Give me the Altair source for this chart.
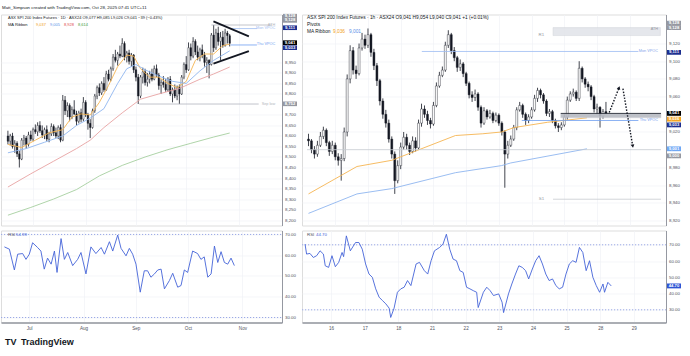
import altair as alt
import pandas as pd

FONT = "Liberation Sans"
INK = "#131722"
AXC = "#50535e"
GRID = "#f0f2f6"
SEP = "#9598a1"

# ---------------- daily (left) ----------------
D_OPEN = [8600,8575,8600,8550,8565,8515,8490,8580,8590,8560, 8605,8585,8630,8620,8650,8625,8605,8630,8585,8610,
          8645,8615,8600,8640,8580,8770,8720,8745,8690,8725, 8705,8670,8710,8680,8760,8700,8660,8640,8720,8790,
          8830,8805,8850,8820,8895,8870,8920,8975,8960,8990, 8980,9040,8975,8995,8955,8985,8915,8880,8790,8880,
          8905,8855,8870,8895,8870,8920,8890,8840,8855,8845, 8820,8870,8800,8820,8790,8830,8800,8880,8940,8915,
          9020,8980,9050,9000,8975,9010,8985,8950,8960,8940, 9080,9020,9090,9050,9070,9030,9090,9077]
D_HIGH = [8625,8610,8615,8580,8575,8530,8590,8605,8600,8620, 8625,8640,8655,8665,8670,8650,8640,8650,8620,8660,
          8655,8640,8650,8655,8795,8790,8760,8755,8740,8770, 8720,8720,8730,8785,8770,8710,8680,8730,8800,8840,
          8850,8860,8880,8910,8915,8930,8990,9010,9000,9030, 9065,9050,9005,9010,8995,8990,8930,8895,8890,8925,
          8920,8900,8910,8920,8935,8940,8900,8870,8885,8870, 8880,8885,8830,8845,8840,8845,8890,8950,8980,9045,
          9040,9070,9060,9030,9020,9035,9000,8975,8965,9090, 9128,9110,9120,9095,9100,9110,9100,9085]
D_LOW = [8560,8555,8540,8520,8500,8450,8485,8555,8540,8550, 8575,8575,8610,8600,8615,8590,8585,8575,8570,8600,
         8600,8590,8585,8570,8575,8700,8690,8670,8680,8700, 8650,8660,8665,8670,8690,8630,8590,8635,8710,8775,
         8790,8795,8810,8815,8860,8860,8910,8950,8935,8970, 8975,8960,8950,8940,8930,8900,8860,8752,8780,8850,
         8840,8835,8850,8860,8865,8880,8820,8800,8830,8810, 8810,8790,8760,8780,8770,8752,8795,8870,8900,8910,
         8960,8970,8985,8960,8955,8970,8930,8900,8874,8935, 9000,9010,9030,8960,9020,9025,9040,9026]
D_CLOSE = [8575,8600,8550,8565,8515,8490,8580,8590,8560,8605, 8585,8630,8620,8650,8625,8605,8630,8585,8610,8645,
           8615,8600,8640,8580,8770,8720,8745,8690,8725,8705, 8670,8710,8680,8760,8700,8660,8640,8720,8790,8830,
           8805,8850,8820,8895,8870,8920,8975,8960,8990,8980, 9040,8975,8995,8955,8985,8915,8880,8790,8880,8905,
           8855,8870,8895,8870,8920,8890,8840,8855,8845,8820, 8870,8800,8820,8790,8830,8800,8880,8940,8915,9020,
           8980,9050,9000,8975,9010,8985,8950,8960,8940,9080, 9020,9090,9050,9070,9030,9090,9078,9041]

D_MA1_I = [0,6,12,18,24,28,32,36,40,44,48,52,55,58,62,66,70,74,78,82,86,90,94,97]
D_MA1_V = [8560,8545,8580,8615,8630,8690,8705,8700,8760,8840,8930,8985,8980,8920,8880,8880,8850,8830,8860,8960,8990,8990,9030,9037]
D_MA2_I = [0,8,16,24,30,36,42,48,52,56,60,66,72,78,84,90,97]
D_MA2_V = [8520,8540,8570,8600,8650,8685,8730,8850,8920,8940,8915,8885,8860,8850,8910,8960,9005]
D_MA3_I = [0,10,20,30,36,42,50,58,66,75,84,90,97]
D_MA3_V = [8357,8420,8480,8540,8580,8640,8710,8775,8800,8826,8870,8895,8928]
D_MA4_I = [0,10,20,30,40,50,60,70,80,90,97]
D_MA4_V = [8223,8260,8300,8345,8410,8460,8500,8535,8565,8595,8614]

D_RSI_I = [0.6,2.7,4.8,6.2,8.3,9.7,11.1,12.5,14.6,16.0,17.4,18.8,20.3,21.7,22.8,24.5,25.9,27.3,29.4,31.5,
           32.9,35.0,37.1,39.2,41.4,42.8,44.9,46.3,48.4,49.8,51.9,53.3,54.7,56.1,57.9,59.6,61.0,62.4,63.9,65.3,
           66.7,68.1,70.2,71.6,73.7,75.1,76.5,77.9,80.0,82.1,83.5,84.9,86.4,87.8,89.2,90.6,92.0,93.4,94.8,96.2,97.6]
D_RSI_V = [64,62.9,52.9,60.5,60.8,58,60.5,66,63.7,62,53.3,58.6,55.7,62,51.7,68,58,61.3,55,58,
           61.3,51,64,60.8,63.7,60.5,66.5,62,69.7,63.3,59.7,63.3,60.5,55.7,42.2,52.5,52.5,49.4,51,52.9,
           53.3,43.8,47.8,51.3,44.6,45.4,52.9,51.7,62,60.8,58,59.2,49.4,51,64.4,56.5,61.7,56.5,55.7,58.6,55.0]

D_MONTH_POS = [11, 34, 56, 78, 101]
D_MONTH_LBL = ["Jul", "Aug", "Sep", "Oct", "Nov"]
D_PRICE_TICKS = [8200,8250,8300,8350,8400,8450,8500,8550,8600,8650,8700,8800,8850,8900,8950]

# horizontal levels (left): x1, x2, level, colour, label
D_LVL_X1 = [89.0, 97.4, 97.4, 57.4]
D_LVL_X2 = [115.6, 108.9, 108.9, 109.7]
D_LVL_Y = [9128, 9111, 9033, 8752]
D_LVL_C = ["#b2b5be", "#9dbcf2", "#6f9ef0", "#b2b5be"]
D_LVL_T = ["ATH", "Mon VPOC", "Thu VPOC", "Sep low"]
# triangle trend lines
D_TRI_X1 = [89.9, 89.9]
D_TRI_Y1 = [9145, 8944]
D_TRI_X2 = [105.4, 105.4]
D_TRI_Y2 = [9074, 9004]

D_BOX_POS = [9170, 9150, 9115, 9044, 9020, 8753]
D_BOX_TXT = ["9,128", "9,128", "9,111", "9,041", "9,033", "8,752"]
D_BOX_FILL = ["#9598a1", "#9598a1", "#1c2e8f", "#000000", "#1c2e8f", "#9598a1"]

# ---------------- hourly (right) ----------------
H_OPEN0 = 9012
H_CLOSE = [9010,9000,8995,9005,9015,9022,9008,8998,9005,8992, 8988,8990,9020,9080,9112,9090,9086,9115,9125,9118,
           9130,9110,9095,9078,9055,9040,9030,9012,8995,8965, 8982,9003,9014,9005,8998,9010,9002,9030,9046,9040,
           9033,9029,9050,9072,9084,9090,9118,9130,9112,9104, 9093,9097,9086,9075,9062,9059,9063,9048,9030,9044,
           9037,9041,9033,9039,9030,9020,8995,9005,9012,9025, 9045,9050,9040,9033,9037,9045,9058,9067,9062,9055,
           9041,9043,9033,9027,9025,9028,9037,9056,9063,9065, 9058,9092,9080,9074,9071,9060,9046,9048,9038,9043,
           9041]
H_HIGH = [9018,9012,9004,9010,9020,9026,9024,9010,9010,9008, 8996,8995,9025,9085,9118,9116,9095,9120,9132,9130,
          9137,9132,9114,9098,9080,9058,9045,9034,9015,8998, 8988,9008,9020,9018,9008,9015,9014,9034,9052,9050,
          9044,9036,9054,9076,9088,9094,9122,9135,9132,9116, 9106,9102,9099,9088,9077,9066,9068,9065,9050,9048,
          9046,9045,9043,9042,9041,9032,9022,9010,9016,9028, 9048,9054,9052,9042,9040,9048,9062,9070,9069,9064,
          9057,9046,9045,9035,9030,9031,9040,9060,9066,9069, 9067,9100,9094,9082,9077,9073,9062,9052,9049,9046,
          9054]
H_LOW = [9004,8996,8990,8992,9003,9012,9004,8993,8995,8988, 8982,8965,8987,9015,9075,9085,9080,9084,9112,9114,
         9115,9105,9090,9072,9050,9035,9025,9008,8990,8950, 8962,8978,9000,9000,8994,8996,8998,9000,9026,9036,
         9028,9024,9027,9048,9070,9082,9088,9115,9108,9100, 9088,9089,9082,9072,9058,9054,9055,9044,9025,9028,
         9034,9035,9030,9031,9027,9016,8957,8990,9003,9010, 9022,9043,9036,9028,9030,9035,9043,9054,9058,9052,
         9038,9037,9030,9024,9020,9022,9026,9034,9054,9060, 9055,9055,9076,9070,9066,9056,9042,9040,9025,9035,
         9040]

H_MA1_K = [0, 16.3, 28, 49.4, 58.6, 64.9, 69.1, 80.4, 93.6]
H_MA1_V = [8950, 8981, 8988, 9016, 9018, 9020, 9025, 9031, 9036]
H_MA2_K = [0, 16.3, 28, 49.4, 64.9, 68, 93.6]
H_MA2_V = [8928, 8950, 8956, 8974, 8982, 8985, 9001]

H_RSI_K = [0.5,1.0,2.1,3.2,4.3,5.4,6.5,7.1,8.2,9.3,10.4,11.5,12.6,13.1,14.0,15.3,17.0,18.1,19.2,20.3,
           21.4,22.5,23.6,24.7,25.8,26.9,28.0,28.5,29.6,30.7,31.8,32.9,34.0,35.1,36.8,37.9,39.5,40.6,41.7,42.8,
           44.5,45.6,46.7,47.8,48.9,50.0,51.1,52.2,53.3,54.4,55.5,56.6,57.1,58.8,59.9,61.0,62.1,63.8,64.9,65.4,
           67.0,68.1,69.3,70.4,71.5,72.6,73.6,74.8,75.9,77.0,78.1,79.2,80.3,81.4,82.5,83.6,84.7,85.8,86.9,88.0,
           89.1,90.2,91.3,92.4,93.5,94.6,95.7,96.8,97.9,98.4,99.5,100.6]
H_RSI_V = [70.4,64.3,64.7,62.2,63.3,66.3,64.3,57.1,56.1,63.3,56.5,59.2,65.3,62.7,75.5,66.3,71.4,71.4,67.3,58.2,
           52,50,42.9,37.8,35.7,33.7,31,25.3,31,40.8,42.9,43.9,48,44.9,58.2,59.2,54.1,52,60.2,66.3,
           68.4,70.4,76.5,67.3,61.2,60.2,54.1,53,43.9,42.9,41.8,40.8,31.4,40.8,43.9,41.8,38.8,39.8,34.7,28.3,
           39.8,45.9,52,57.1,56.1,54.1,49,55.1,60.2,63.3,58.2,52,48,49,44.9,42.9,43.9,52,58.2,60.2,
           59.2,68.4,65.3,54.1,60.2,50,44.9,40.8,45.9,40.8,46.9,44.7]

H_DAY_POS = [9, 20, 31, 42, 53, 64, 75, 86, 97, 108]
H_DAY_LBL = ["16", "17", "18", "21", "22", "23", "24", "25", "28", "29"]
H_PRICE_TICKS = [8920, 8940, 8960, 8980, 9020, 9060, 9080, 9100, 9120]

H_LVL_X1 = [38.1, 71.7, -0.5, 82.2, 84.8]
H_LVL_X2 = [110.9, 110.9, 118.5, 118.5, 118.5]
H_LVL_Y = [9111, 9033, 9000, 8944, 9041]
H_LVL_C = ["#9dbcf2", "#6f9ef0", "#c7cad1", "#c7cad1", "#131722"]
H_TXT_X = [117.5, 117.5, 117.5, 78.3, 78.3]
H_TXT_Y = [9111, 9033, 9136, 9130, 8944]
H_TXT_T = ["Mon VPOC", "Thu VPOC", "ATH", "R1", "S1"]
H_TXT_C = ["#7fa6ea", "#6f9ef0", "#9598a1", "#9598a1", "#9598a1"]
H_TXT_A = ["right", "right", "right", "center", "center"]
# shaded zones: x1, x2, y1, y2
H_ZONE_X1 = [82.2, 84.8]
H_ZONE_X2 = [118.3, 118.5]
H_ZONE_Y1 = [9129, 9036]
H_ZONE_Y2 = [9138, 9041]
H_ZONE_C = ["#e3e5ea", "#b8bbc3"]
# projected path (dotted arrows)
H_ARW_X1 = [101.1, 105.7]
H_ARW_Y1 = [9042, 9069]
H_ARW_X2 = [104.4, 109.0]
H_ARW_Y2 = [9070, 9004]

H_BOX_POS = [9143, 9138, 9110, 9041, 9034.5, 9028, 9001, 8993]
H_BOX_TXT = ["9,128", "9,128", "9,111", "9,041", "9,036", "9,033", "9,001", "9,000"]
H_BOX_FILL = ["#9598a1", "#9598a1", "#1c2e8f", "#000000", "#f5a623", "#1c2e8f", "#6fa8f5", "#9598a1"]

# ---------------- layout ----------------
LW, RW, PH, IH = 281, 364, 211, 92
ONE = pd.DataFrame({"z": [0]})


def lab_expr(vals, labels):
    return " : ".join(f"datum.value == {v} ? '{l}'" for v, l in zip(vals, labels)) + " : ''"


def x_axis(vals, labels, show):
    if show:
        return alt.Axis(values=vals, labelExpr=lab_expr(vals, labels), labelFontSize=4.6, labelFont=FONT,
                        labelColor=AXC, labelPadding=2.5, ticks=False, domain=True, domainColor=SEP,
                        domainWidth=1.5, grid=True, gridColor=GRID, gridWidth=0.7, title=None,
                        labelFlush=False, labelOverlap=False)
    return alt.Axis(values=vals, labels=False, ticks=False, domain=False, grid=True, gridColor=GRID,
                    gridWidth=0.7, title=None)


def y_axis(vals, fmt):
    return alt.Axis(orient="right", values=vals, format=fmt, labelFontSize=4.4, labelFont=FONT,
                    labelColor=AXC, labelPadding=2.5, ticks=False, domain=True, domainColor=SEP,
                    domainWidth=1, grid=True, gridColor=GRID, gridWidth=0.7, title=None,
                    labelFlush=False, labelOverlap=False)


def txt(px, py, t, color, size=4.6, align="left", weight="normal"):
    return alt.Chart(ONE).mark_text(text=t, align=align, baseline="middle", fontSize=size, font=FONT,
                                    color=color, fontWeight=weight).encode(x=alt.value(px), y=alt.value(py))


def price_panel(df, ma_frames, ma_colors, X, Y, width, body_w, boxes, extra):
    wick = alt.Chart(df).mark_rule(color=INK, strokeWidth=0.8).encode(x=X("i"), y=Y("L"), y2="H")
    body = alt.Chart(df).mark_bar(size=body_w, stroke=INK, strokeWidth=0.4).encode(
        x=X("i"), y=Y("O"), y2="C",
        fill=alt.Color("dir:N", scale=alt.Scale(domain=["up", "down"], range=["#ffffff", INK]), legend=None))
    ma = alt.Chart(ma_frames).mark_line(strokeWidth=0.9).encode(
        x=X("i"), y=Y("v"),
        color=alt.Color("ma:N", scale=alt.Scale(domain=list(ma_colors.keys()), range=list(ma_colors.values())),
                        legend=None))
    box_rect = alt.Chart(boxes).mark_rect().encode(
        x=alt.value(width + 1), x2=alt.value(width + 15), y=Y("top"), y2="bot",
        color=alt.Color("fill:N", scale=None))
    box_text = alt.Chart(boxes).mark_text(fontSize=4.2, font=FONT, color="white", align="center",
                                          baseline="middle", fontWeight="bold").encode(
        x=alt.value(width + 8), y=Y("pos"), text="txt:N")
    return [wick, body, ma] + extra + [box_rect, box_text]


# ---------------- left frames ----------------
dd = pd.DataFrame({"i": range(len(D_CLOSE)), "O": D_OPEN, "H": D_HIGH, "L": D_LOW, "C": D_CLOSE})
dd["dir"] = ["up" if c >= o else "down" for o, c in zip(dd.O, dd.C)]
dma = pd.concat([
    pd.DataFrame({"i": D_MA1_I, "v": D_MA1_V, "ma": "m1"}),
    pd.DataFrame({"i": D_MA2_I, "v": D_MA2_V, "ma": "m2"}),
    pd.DataFrame({"i": D_MA3_I, "v": D_MA3_V, "ma": "m3"}),
    pd.DataFrame({"i": D_MA4_I, "v": D_MA4_V, "ma": "m4"}),
])
dbox = pd.DataFrame({"pos": D_BOX_POS, "txt": D_BOX_TXT, "fill": D_BOX_FILL})
dbox["top"] = dbox.pos + 11
dbox["bot"] = dbox.pos - 11
dlvl = pd.DataFrame({"x1": D_LVL_X1, "x2": D_LVL_X2, "y": D_LVL_Y, "c": D_LVL_C, "t": D_LVL_T})
dlvl["tx"] = 116.9
dtri = pd.DataFrame({"x1": D_TRI_X1, "y1": D_TRI_Y1, "x2": D_TRI_X2, "y2": D_TRI_Y2})

lxs = alt.Scale(domain=[-0.84, 117.7], nice=False, zero=False)
lys = alt.Scale(domain=[8174, 9178], nice=False, zero=False)
lxa = x_axis(D_MONTH_POS, D_MONTH_LBL, False)
lya = y_axis(D_PRICE_TICKS, ",d")


def LX(f):
    return alt.X(f"{f}:Q", scale=lxs, axis=lxa)


def LY(f):
    return alt.Y(f"{f}:Q", scale=lys, axis=lya)


d_extra = [
    alt.Chart(dlvl).mark_rule(strokeWidth=0.8).encode(x=LX("x1"), x2="x2", y=LY("y"), color=alt.Color("c:N", scale=None)),
    alt.Chart(dlvl).mark_text(align="right", baseline="middle", fontSize=3.8, font=FONT, dy=-0.5).encode(
        x=LX("tx"), y=LY("y"), text="t:N", color=alt.Color("c:N", scale=None)),
    alt.Chart(dtri).mark_rule(strokeWidth=1.8, color=INK).encode(x=LX("x1"), y=LY("y1"), x2="x2", y2="y2"),
]
left_layers = price_panel(dd, dma, {"m1": "#f5b451", "m2": "#8fb5ef", "m3": "#e8a3a3", "m4": "#a6cf9f"},
                          LX, LY, LW, 1.5, dbox, d_extra)
left_layers += [
    txt(7, 3.3, "ASX SPI 200 Index Futures · 1D · ASX24  O9,077  H9,085  L9,026  C9,041  −39 (−0.43%)", INK, 4.0),
    txt(7, 10.3, "MA Ribbon", INK, 4.0),
    txt(35, 10.3, "9,037", "#f0a020", 4.0),
    txt(49, 10.3, "9,005", "#5a8fe8", 4.0),
    txt(63, 10.3, "8,928", "#e04848", 4.0),
    txt(77, 10.3, "8,614", "#3d9a3d", 4.0),
]
left_price = alt.layer(*left_layers).properties(width=LW, height=PH)

# left RSI
lrs = alt.Scale(domain=[27.6, 71.9], nice=False, zero=False)
lra = y_axis([30, 40, 50, 60, 70], ".2f")
lxa2 = x_axis(D_MONTH_POS, D_MONTH_LBL, True)
drsi = pd.DataFrame({"i": D_RSI_I, "v": D_RSI_V})
bands = pd.DataFrame({"b": [30, 70]})
left_rsi = alt.layer(
    alt.Chart(bands).mark_rule(strokeDash=[1.2, 1.8], strokeWidth=1, color="#9aa8e6").encode(
        x=alt.value(0), x2=alt.value(LW), y=alt.Y("b:Q", scale=lrs, axis=lra)),
    alt.Chart(drsi).mark_line(strokeWidth=0.9, color="#4463d8").encode(
        x=alt.X("i:Q", scale=lxs, axis=lxa2), y=alt.Y("v:Q", scale=lrs, axis=lra)),
    txt(7, 4, "RSI", AXC, 4.4),
    txt(15, 4, "54.99", "#4463d8", 4.4),
    txt(20, IH + 19, "TradingView", INK, 9, weight="bold"),
    txt(4, IH + 19, "TV", INK, 9, weight="bold"),
).properties(width=LW, height=IH)

# ---------------- right frames ----------------
hh = pd.DataFrame({"i": range(len(H_CLOSE)), "O": [H_OPEN0] + H_CLOSE[:-1], "H": H_HIGH, "L": H_LOW, "C": H_CLOSE})
hh["dir"] = ["up" if c >= o else "down" for o, c in zip(hh.O, hh.C)]
hma = pd.concat([
    pd.DataFrame({"i": H_MA1_K, "v": H_MA1_V, "ma": "m1"}),
    pd.DataFrame({"i": H_MA2_K, "v": H_MA2_V, "ma": "m2"}),
])
hbox = pd.DataFrame({"pos": H_BOX_POS, "txt": H_BOX_TXT, "fill": H_BOX_FILL})
hbox["top"] = hbox.pos + 2.7
hbox["bot"] = hbox.pos - 2.7
hlvl = pd.DataFrame({"x1": H_LVL_X1, "x2": H_LVL_X2, "y": H_LVL_Y, "c": H_LVL_C})
htxt = pd.DataFrame({"x": H_TXT_X, "y": H_TXT_Y, "t": H_TXT_T, "c": H_TXT_C, "a": H_TXT_A})
hzone = pd.DataFrame({"x1": H_ZONE_X1, "x2": H_ZONE_X2, "y1": H_ZONE_Y1, "y2": H_ZONE_Y2, "c": H_ZONE_C})
harw = pd.DataFrame({"x1": H_ARW_X1, "y1": H_ARW_Y1, "x2": H_ARW_X2, "y2": H_ARW_Y2})

rxs = alt.Scale(domain=[-0.5, 118.5], nice=False, zero=False)
rys = alt.Scale(domain=[8914.3, 9152.8], nice=False, zero=False)
rxa = x_axis(H_DAY_POS, H_DAY_LBL, False)
rya = y_axis(H_PRICE_TICKS, ",d")


def RX(f):
    return alt.X(f"{f}:Q", scale=rxs, axis=rxa)


def RY(f):
    return alt.Y(f"{f}:Q", scale=rys, axis=rya)


h_extra = [
    alt.Chart(hzone).mark_rect(opacity=0.9, stroke="#c7cad1", strokeWidth=0.4).encode(
        x=RX("x1"), x2="x2", y=RY("y1"), y2="y2", color=alt.Color("c:N", scale=None)),
    alt.Chart(hlvl).mark_rule(strokeWidth=0.8).encode(x=RX("x1"), x2="x2", y=RY("y"), color=alt.Color("c:N", scale=None)),
    alt.Chart(htxt[htxt.a == "right"]).mark_text(align="right", baseline="middle", fontSize=3.8, font=FONT).encode(
        x=RX("x"), y=RY("y"), text="t:N", color=alt.Color("c:N", scale=None)),
    alt.Chart(htxt[htxt.a == "center"]).mark_text(align="center", baseline="middle", fontSize=4.4, font=FONT).encode(
        x=RX("x"), y=RY("y"), text="t:N", color=alt.Color("c:N", scale=None)),
    alt.Chart(harw).mark_rule(strokeWidth=1.4, strokeDash=[1.5, 1.5], color=INK).encode(
        x=RX("x1"), y=RY("y1"), x2="x2", y2="y2"),
    alt.Chart(harw.iloc[[0]]).mark_point(shape="triangle-up", filled=True, size=14, color=INK, angle=21, opacity=1).encode(
        x=RX("x2"), y=RY("y2")),
    alt.Chart(harw.iloc[[1]]).mark_point(shape="triangle-up", filled=True, size=14, color=INK, angle=170, opacity=1).encode(
        x=RX("x2"), y=RY("y2")),
]
right_layers = price_panel(hh, hma, {"m1": "#f7b860", "m2": "#a9c8f3"}, RX, RY, RW, 2.0, hbox, h_extra)
right_layers += [
    txt(5, 3.3, "ASX SPI 200 Index Futures · 1h · ASX24  O9,041  H9,054  L9,040  C9,041  +1 (+0.01%)", INK, 4.8),
    txt(5, 10.2, "Pivots", INK, 4.8),
    txt(5, 17.5, "MA Ribbon", INK, 4.8),
    txt(31, 17.5, "9,036", "#f0a020", 4.8),
    txt(47, 17.5, "9,001", "#5a8fe8", 4.8),
]
right_price = alt.layer(*right_layers).properties(width=RW, height=PH)

rrs = alt.Scale(domain=[22.2, 78.8], nice=False, zero=False)
rra = y_axis([30, 40, 50, 60, 70], ".2f")
rxa2 = x_axis(H_DAY_POS, H_DAY_LBL, True)
hrsi = pd.DataFrame({"i": H_RSI_K, "v": H_RSI_V})
rbox = pd.DataFrame({"pos": [44.7], "txt": ["44.70"]})
rbox["top"] = rbox.pos + 1.5
rbox["bot"] = rbox.pos - 1.5
right_rsi = alt.layer(
    alt.Chart(bands).mark_rule(strokeDash=[1.2, 1.8], strokeWidth=1, color="#9aa8e6").encode(
        x=alt.value(0), x2=alt.value(RW), y=alt.Y("b:Q", scale=rrs, axis=rra)),
    alt.Chart(hrsi).mark_line(strokeWidth=0.9, color="#4463d8").encode(
        x=alt.X("i:Q", scale=rxs, axis=rxa2), y=alt.Y("v:Q", scale=rrs, axis=rra)),
    alt.Chart(rbox).mark_rect(color="#2f55d4").encode(
        x=alt.value(RW + 1), x2=alt.value(RW + 15), y=alt.Y("top:Q", scale=rrs, axis=rra), y2="bot"),
    alt.Chart(rbox).mark_text(fontSize=4.2, font=FONT, color="white", align="center", baseline="middle",
                              fontWeight="bold").encode(
        x=alt.value(RW + 8), y=alt.Y("pos:Q", scale=rrs, axis=rra), text="txt:N"),
    txt(5, 4, "RSI", AXC, 4.4),
    txt(14, 4, "44.70", "#4463d8", 4.4),
).properties(width=RW, height=IH)

chart = alt.hconcat(
    alt.vconcat(left_price, left_rsi, spacing=3),
    alt.vconcat(right_price, right_rsi, spacing=3),
    spacing=3,
).properties(
    title=alt.TitleParams("Matt_Simpson created with TradingView.com, Oct 28, 2025 07:41 UTC+11",
                          anchor="start", fontSize=4.4, font=FONT, color=INK, fontWeight="normal",
                          offset=2.5, dx=2),
    padding={"left": 0, "top": 4.5, "right": 0, "bottom": 0},
).configure_view(stroke="#e0e3eb", strokeWidth=0.8).configure(background="white")

chart.save("out.html", embed_options={"renderer": "svg", "actions": False})
